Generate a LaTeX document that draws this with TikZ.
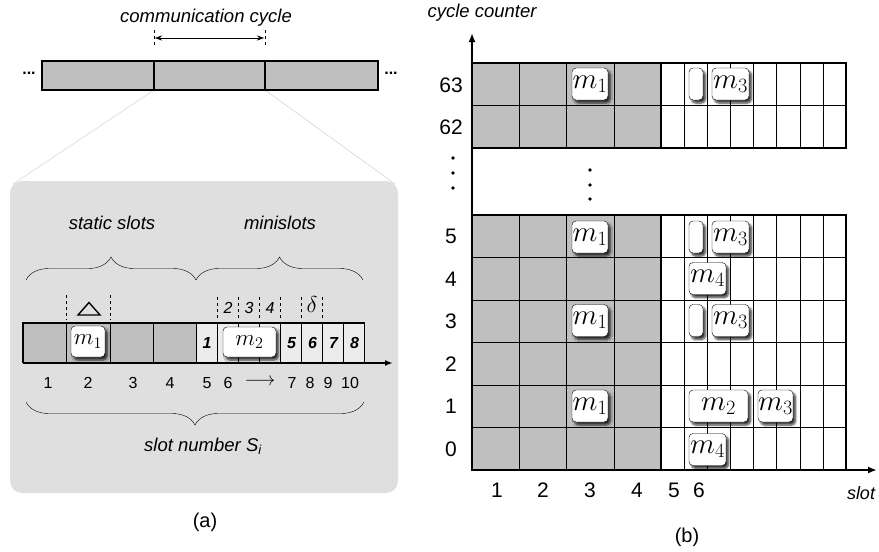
\documentclass[tikz,border=0pt]{standalone}
\usepackage{fix-cm}
\usepackage{amsmath}
\usepackage[no-math]{fontspec}
\setmainfont{Liberation Sans}
\usepackage{tikz}
\usetikzlibrary{decorations.pathreplacing,shadows.blur,arrows.meta}

\tikzset{
  txt/.style={font=\fontsize{18.5}{20}\selectfont\itshape},
  num/.style={font=\fontsize{16}{18}\selectfont},
  bnum/.style={font=\fontsize{16}{18}\selectfont\bfseries\itshape},
  bignum/.style={font=\fontsize{21}{23}\selectfont},
  msg/.style={draw,fill=white,rounded corners=4pt,inner sep=0pt,minimum height=32pt,
    font=\fontsize{29}{29}\selectfont,
    blur shadow={shadow xshift=2.5pt,shadow yshift=-3pt,shadow blur steps=6,shadow opacity=80}},
  brc/.style={decorate,decoration={brace,amplitude=23pt}},
}

\begin{document}
\begin{tikzpicture}[x=1pt,y=-1pt]
\useasboundingbox (0,0) rectangle (879,552);

%%%%% (a) the cycle and one of its slots
\node[txt] (cyc) at (206,18) {communication cycle};
\coordinate (c1) at (154,61);  \coordinate (c2) at (265,61);
\coordinate (b1) at (154,90);  \coordinate (b2) at (265,90);
\draw[dashed] (154,30)--(154,46);
\draw[dashed] (265,30)--(265,46);
\draw[{Stealth[length=7pt,width=5pt]}-{Stealth[length=7pt,width=5pt]}] (155,38)--(264,38);		%one cycle

\draw[gray!45] (b1)--(13,184);
\draw[gray!45] (b2)--(395,184);
\fill[gray!25,rounded corners=12pt] (10,181) rectangle (398,493);	%zoom box

\draw[line width=1.5pt,fill=gray!50] (42,61) rectangle (378,90);
\draw[line width=1.5pt] (c1)--(b1) (c2)--(b2);
\node[font=\fontsize{16}{18}\selectfont\bfseries] (dl) at (29,73) {...};
\node[font=\fontsize{16}{18}\selectfont\bfseries] (dr) at (391,73) {...};

\node[txt] (st) at (112,223) {static slots};
\node[txt] (ms) at (280,223) {minislots};
\draw[brc] (26,280)--(196,280);
\draw[brc] (196,280)--(363,280);

% slot widths
\draw[dashed] (66.5,295)--(66.5,320);
\draw[dashed] (110,295)--(110,320);
\draw[line width=1.4pt,line join=miter] (78,315)--(100,315)--(89,302.5)--cycle;	%Delta
\foreach \x in {217.5,238.5,259.5,280.5,301.5,322.5}
  \draw[dashed] (\x,297)--(\x,318);
\node[num,font=\fontsize{16}{18}\selectfont\itshape] (n2) at (228,308) {2};
\node[num,font=\fontsize{16}{18}\selectfont\itshape] (n3) at (249,308) {3};
\node[num,font=\fontsize{16}{18}\selectfont\itshape] (n4) at (270,308) {4};
\node[font=\fontsize{23}{23}\selectfont] (dl2) at (312,305) {$\delta$};

% the slot bar
\fill[gray!50] (23,323) rectangle (196.5,363);
\fill[gray!15] (196.5,323) rectangle (364.5,363);
\foreach \x in {66.5,110,153.25,196.5}
  \draw (\x,323)--(\x,363);
\foreach \k in {1,...,7}
  \draw ({196.5+21*\k},323)--++(0,40);
\draw[line width=1.5pt] (23,363)--(23,323)--(364.5,323)--(364.5,363);
\draw[line width=2pt,-{Latex[length=8pt,width=6pt]}] (23,363)--(393,363);	%time axis

\node[bnum] (d1) at (207,343) {1};
\node[bnum] (d5) at (291.5,343) {5};
\node[bnum] (d6) at (312.5,343) {6};
\node[bnum] (d7) at (333.5,343) {7};
\node[bnum] (d8) at (354.5,343) {8};
\node[msg,minimum width=34pt,minimum height=31pt,font=\fontsize{23}{23}\selectfont] (m1a) at (88,341.5) {$m_1$};
\node[msg,minimum width=53pt,minimum height=30pt,font=\fontsize{23}{23}\selectfont] (m2a) at (249.5,342) {$m_2$};

\node[num] (s1) at (48,383) {1};
\node[num] (s2) at (88,383) {2};
\node[num] (s3) at (133,383) {3};
\node[num] (s4) at (170,383) {4};
\node[num] (s5) at (207,383) {5};
\node[num] (s6) at (228,383) {6};
\node[font=\fontsize{19}{20}\selectfont] (sar) at (260,382) {$\longrightarrow$};
\node[num] (s7) at (292,383) {7};
\node[num] (s8) at (310,383) {8};
\node[num] (s9) at (328,383) {9};
\node[num] (s10) at (350,383) {10};

\draw[brc] (364,402)--(26,402);
\node[txt] (sn) at (203,446) {slot number S\textsubscript{i}};
\node[font=\fontsize{20}{22}\selectfont] (la) at (205,522) {(a)};

%%%%% (b) cycle counter against slot
\fill[gray!50] (472,63) rectangle (661,148);
\fill[gray!50] (472,215) rectangle (661,470);
\draw (472,105.5)--(846,105.5);
\foreach \y in {257.5,300,342.5,385,427.5}
  \draw (472,\y)--(846,\y);
\foreach \x in {519.25,566.5,613.75} {
  \draw (\x,63)--(\x,148);
  \draw (\x,215)--(\x,470);
}
\foreach \k in {1,...,7} {
  \draw ({661+23.125*\k},63)--++(0,85);
  \draw ({661+23.125*\k},215)--++(0,255);
}
\draw[line width=1.5pt] (472,63) rectangle (846,148);
\draw[line width=1.5pt] (472,215) rectangle (846,470);
\draw[line width=1.5pt] (661,63)--(661,148) (661,215)--(661,470);
\draw[line width=2.5pt,-{Latex[length=9pt,width=7pt]}] (472,471)--(472,33);	%cycle axis
\draw[line width=2.5pt,-{Latex[length=9pt,width=7pt]}] (471,470)--(877,470);	%slot axis

\node[txt,font=\fontsize{18.5}{20}\selectfont\itshape] (cc) at (482,13) {cycle counter};
\node[txt,font=\fontsize{18}{20}\selectfont\itshape] (sl) at (861,493) {slot};

\node[bignum] (r63) at (451,85) {63};
\node[bignum] (r62) at (451,127.5) {62};
\node[bignum] (r5) at (451,236.5) {5};
\node[bignum] (r4) at (451,279) {4};
\node[bignum] (r3) at (451,321.5) {3};
\node[bignum] (r2) at (451,364) {2};
\node[bignum] (r1) at (451,406.5) {1};
\node[bignum] (r0) at (451,449) {0};

\foreach \y in {158,173,188}
  \fill (453,\y) circle (1.9);
\foreach \y in {170,185,199}
  \fill (590,\y) circle (1.9);

\node[bignum] (k1) at (497,490) {1};
\node[bignum] (k2) at (543,490) {2};
\node[bignum] (k3) at (590,490) {3};
\node[bignum] (k4) at (637,490) {4};
\node[bignum] (k5) at (674,490) {5};
\node[bignum] (k6) at (699,490) {6};

% frames sent in each cycle
\node[msg,minimum width=36pt] (m1r63) at (590,84) {$m_1$};
\node[msg,minimum width=14pt] (e63) at (696,84) {};
\node[msg,minimum width=37pt] (m3r63) at (730.5,84) {$m_3$};
\node[msg,minimum width=36pt] (m1r5) at (590,237) {$m_1$};
\node[msg,minimum width=14pt] (e5) at (696,237) {};
\node[msg,minimum width=37pt] (m3r5) at (730.5,237) {$m_3$};
\node[msg,minimum width=37pt] (m4r4) at (707.5,278.5) {$m_4$};
\node[msg,minimum width=36pt] (m1r3) at (590,320.5) {$m_1$};
\node[msg,minimum width=14pt] (e3) at (696,320.5) {};
\node[msg,minimum width=37pt] (m3r3) at (730.5,320.5) {$m_3$};
\node[msg,minimum width=36pt] (m1r1) at (590,406) {$m_1$};
\node[msg,minimum width=59pt] (m2r1) at (718.5,406) {$m_2$};
\node[msg,minimum width=35pt] (m3r1) at (775.5,406) {$m_3$};
\node[msg,minimum width=37pt] (m4r0) at (707.5,449.5) {$m_4$};

\node[font=\fontsize{20}{22}\selectfont] (lb) at (687,537) {(b)};
\end{tikzpicture}
\end{document}
